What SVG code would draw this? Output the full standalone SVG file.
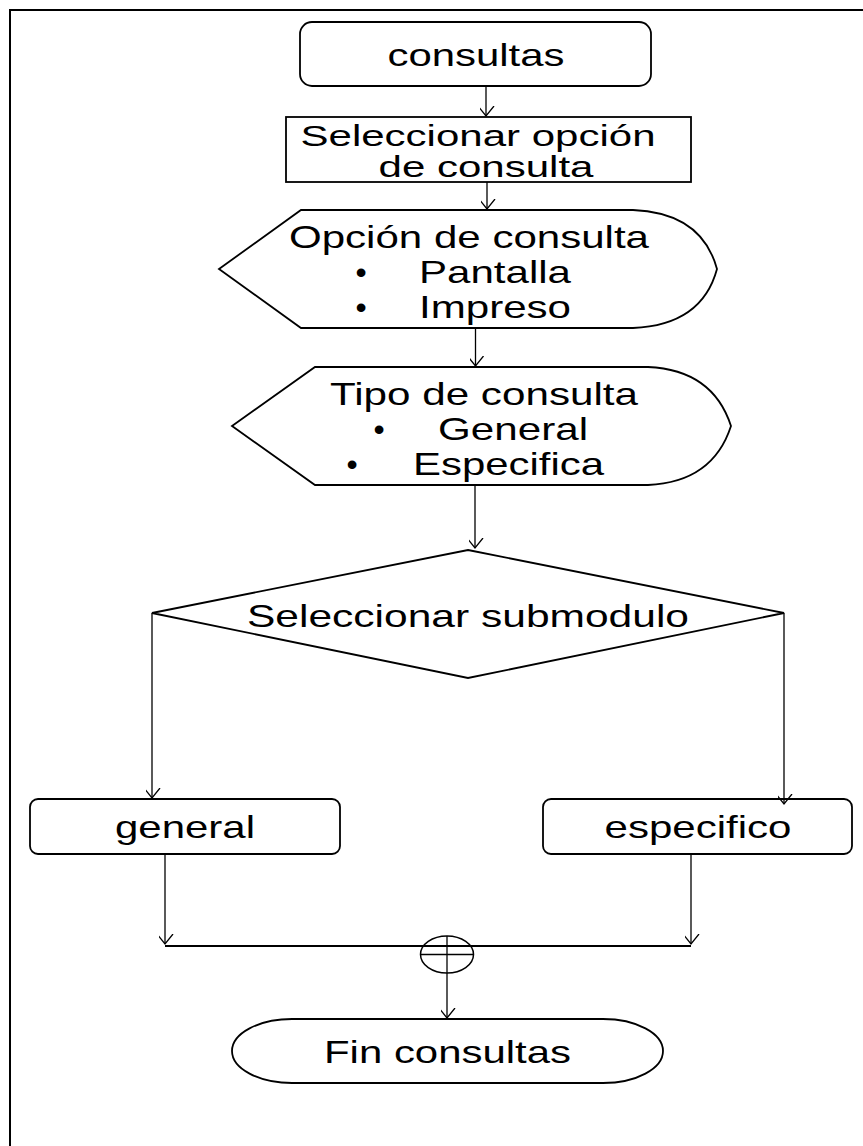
<svg xmlns="http://www.w3.org/2000/svg" width="863" height="1146" viewBox="0 0 863 1146">
<style>
.sh{fill:#fff;stroke:#000;stroke-width:1.8}
.c{fill:none;stroke:#000;stroke-width:1.3}
.t{font-family:"Liberation Sans",Arial,sans-serif;font-size:32px;fill:#000}
.s{font-size:29px}
.m{text-anchor:middle}
</style>
<defs>
<marker id="a" markerUnits="userSpaceOnUse" markerWidth="20" markerHeight="20" viewBox="-10 -14 20 20" refX="0" refY="0" orient="auto">
<path d="M-10,-8 L0,0 L-10,8" fill="none" stroke="#000" stroke-width="1.3"/>
</marker>
</defs>
<rect x="0" y="0" width="863" height="1146" fill="#fff"/>
<rect id="frame" x="10" y="10" width="880" height="1160" fill="none" stroke="#000" stroke-width="2"/>
<g id="n-consultas">
<rect class="sh" x="300" y="22" width="351" height="64" rx="12"/>
<text class="t m" x="476" y="66" textLength="177" lengthAdjust="spacingAndGlyphs">consultas</text>
</g>
<g id="n-seleccionar">
<rect class="sh" x="286" y="117" width="405" height="65"/>
<text class="t s m" x="478" y="146" textLength="355" lengthAdjust="spacingAndGlyphs">Seleccionar opción</text>
<text class="t s m" x="486" y="177" textLength="215" lengthAdjust="spacingAndGlyphs">de consulta</text>
</g>
<g id="n-opcion">
<path class="sh" d="M301,210 L633,210 C680,212 707,232 717,269 C707,306 680,326 633,328 L301,328 L219,269 Z"/>
<text class="t" x="289" y="248" textLength="360" lengthAdjust="spacingAndGlyphs">Opción de consulta</text>
<text class="t m" x="361" y="283">•</text>
<text class="t" x="419" y="283" textLength="152" lengthAdjust="spacingAndGlyphs">Pantalla</text>
<text class="t m" x="361" y="318">•</text>
<text class="t" x="419" y="318" textLength="152" lengthAdjust="spacingAndGlyphs">Impreso</text>
</g>
<g id="n-tipo">
<path class="sh" d="M315,367 L648,367 C692,369 719,389 731,426 C719,463 692,483 648,485 L315,485 L232,426 Z"/>
<text class="t" x="330" y="405" textLength="308" lengthAdjust="spacingAndGlyphs">Tipo de consulta</text>
<text class="t m" x="379" y="440">•</text>
<text class="t" x="438" y="440" textLength="150" lengthAdjust="spacingAndGlyphs">General</text>
<text class="t m" x="352" y="475">•</text>
<text class="t" x="413" y="475" textLength="191" lengthAdjust="spacingAndGlyphs">Especifica</text>
</g>
<g id="n-submodulo">
<path class="sh" d="M468,550 L784,613 L468,678 L152,613 Z"/>
<text class="t" x="247" y="627" textLength="442" lengthAdjust="spacingAndGlyphs">Seleccionar submodulo</text>
</g>
<g id="n-general">
<rect class="sh" x="30" y="799" width="310" height="55" rx="8"/>
<text class="t m" x="185" y="838" textLength="140" lengthAdjust="spacingAndGlyphs">general</text>
</g>
<g id="n-especifico">
<rect class="sh" x="543" y="799" width="309" height="55" rx="8"/>
<text class="t m" x="698" y="838" textLength="187" lengthAdjust="spacingAndGlyphs">especifico</text>
</g>
<g id="n-union">
<ellipse cx="447" cy="954.5" rx="26.5" ry="18.5" fill="#fff" stroke="#000" stroke-width="1.5"/>
<line x1="420.5" y1="954.5" x2="473.5" y2="954.5" stroke="#000" stroke-width="1.5"/>
</g>
<g id="n-fin">
<path class="sh" d="M292,1019 L603,1019 A60,32 0 0 1 603,1083 L292,1083 A60,32 0 0 1 292,1019 Z"/>
<text class="t m" x="447.5" y="1063" textLength="247" lengthAdjust="spacingAndGlyphs">Fin consultas</text>
</g>
<g id="connectors">
<line class="c" x1="486" y1="86" x2="486" y2="116" marker-end="url(#a)"/>
<line class="c" x1="487" y1="182" x2="487" y2="209" marker-end="url(#a)"/>
<line class="c" x1="475.5" y1="328" x2="475.5" y2="366" marker-end="url(#a)"/>
<line class="c" x1="475" y1="485" x2="475" y2="548" marker-end="url(#a)"/>
<line class="c" x1="152" y1="613" x2="152" y2="798" marker-end="url(#a)"/>
<line class="c" x1="784" y1="613" x2="784" y2="804" marker-end="url(#a)"/>
<line class="c" x1="165" y1="854" x2="165" y2="944" marker-end="url(#a)"/>
<line class="c" x1="691" y1="854" x2="691" y2="944" marker-end="url(#a)"/>
<line x1="165" y1="946" x2="691" y2="946" stroke="#000" stroke-width="2.2"/>
<line class="c" x1="447" y1="936" x2="447" y2="1018" marker-end="url(#a)"/>
</g>
</svg>
